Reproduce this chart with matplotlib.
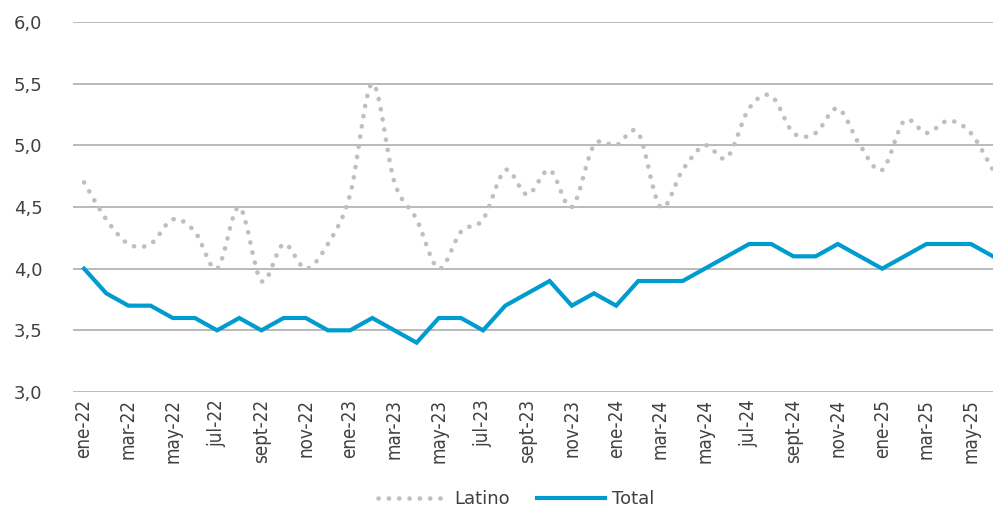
import numpy as np
import matplotlib
matplotlib.use("Agg")
import matplotlib.pyplot as plt
from matplotlib.path import Path
from matplotlib.patches import PathPatch
from matplotlib.lines import Line2D

# Meses (ene-22 a jun-25)
meses = ['ene', 'feb', 'mar', 'abr', 'may', 'jun', 'jul', 'ago', 'sept', 'oct', 'nov', 'dic']
etiquetas = [f'{m}-{a}' for a in ['22', '23', '24', '25'] for m in meses][:42]

latino = [4.7, 4.4, 4.2, 4.2, 4.4, 4.3, 4.0, 4.5, 3.9, 4.2, 4.0, 4.2,
          4.6, 5.5, 4.7, 4.4, 4.0, 4.3, 4.4, 4.8, 4.6, 4.8, 4.5, 5.0,
          5.0, 5.1, 4.5, 4.8, 5.0, 4.9, 5.3, 5.4, 5.1, 5.1, 5.3, 5.0,
          4.8, 5.2, 5.1, 5.2, 5.1, 4.8]

total = [4.0, 3.8, 3.7, 3.7, 3.6, 3.6, 3.5, 3.6, 3.5, 3.6, 3.6, 3.5,
         3.5, 3.6, 3.5, 3.4, 3.6, 3.6, 3.5, 3.7, 3.8, 3.9, 3.7, 3.8,
         3.7, 3.9, 3.9, 3.9, 4.0, 4.1, 4.2, 4.2, 4.1, 4.1, 4.2, 4.1,
         4.0, 4.1, 4.2, 4.2, 4.2, 4.1]

gris = '#BFBFBF'
azul = '#009CCF'
texto = '#404040'

fig = plt.figure(figsize=(9.93, 5.08), dpi=100)
ax = fig.add_axes([73 / 993, 1 - 392 / 508, 1 - 73 / 993, (392 - 22) / 508])

x = np.arange(len(total))

# linea suavizada (bezier, como en Excel) para Latino
pts = np.column_stack([x, latino])
verts = [tuple(pts[0])]
codes = [Path.MOVETO]
n = len(pts)
for i in range(n - 1):
    p0 = pts[i - 1] if i > 0 else pts[i]
    p1 = pts[i]
    p2 = pts[i + 1]
    p3 = pts[i + 2] if i + 2 < n else pts[i + 1]
    c1 = p1 + (p2 - p0) / 6
    c2 = p2 - (p3 - p1) / 6
    verts += [tuple(c1), tuple(c2), tuple(p2)]
    codes += [Path.CURVE4] * 3
estilo_puntos = (0, (0.05, 2.2))
ax.add_patch(PathPatch(Path(verts, codes), fill=False, edgecolor=gris, lw=3.3,
                       linestyle=estilo_puntos, capstyle='round', zorder=3))

ax.plot(x, total, color=azul, lw=3, solid_joinstyle='miter', zorder=4)

ax.set_xlim(-0.5, 41)
ax.set_ylim(3.0, 6.0)
ax.set_yticks(np.arange(3.0, 6.01, 0.5))
ax.set_yticklabels([f'{v:.1f}'.replace('.', ',') for v in np.arange(3.0, 6.01, 0.5)],
                   fontsize=13, color=texto)
ax.set_xticks(x[::2])
ax.set_xticklabels(etiquetas[::2], rotation=90, fontsize=13.5, color=texto,
                   fontstretch='condensed')
ax.tick_params(length=0, pad=5)
ax.tick_params(axis='y', pad=22)
ax.grid(axis='y', color='#BABABA', lw=1.4)
ax.set_axisbelow(True)
for s in ax.spines.values():
    s.set_visible(False)

handles = [Line2D([], [], color=gris, lw=3.3, linestyle=estilo_puntos, dash_capstyle='round'),
           Line2D([], [], color=azul, lw=3)]
fig.legend(handles, ['Latino', 'Total'], loc='center', bbox_to_anchor=(0.52, 0.017),
           ncol=2, frameon=False, fontsize=13, handlelength=3.8, columnspacing=1.5,
           handletextpad=0.4, labelcolor=texto)

fig.savefig('out.png', dpi=100)
